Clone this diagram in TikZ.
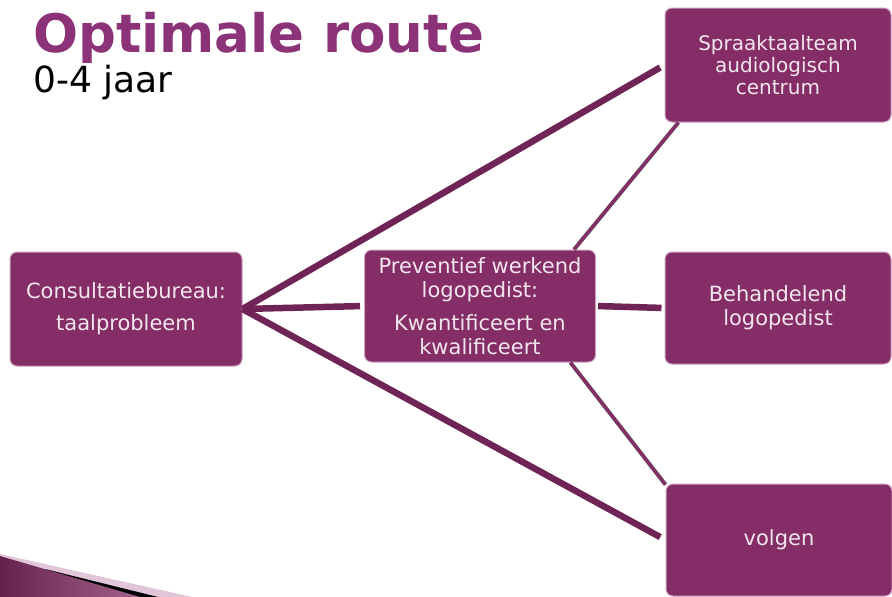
\documentclass[tikz,border=0pt]{standalone}
\usepackage{fontspec}
\setmainfont{DejaVu Sans}
\usetikzlibrary{calc}

\definecolor{boxpurple}{RGB}{133,45,102}
\definecolor{linepurple}{RGB}{112,36,86}
\definecolor{titlepurple}{RGB}{140,50,120}
\definecolor{boxtext}{RGB}{242,230,238}
\definecolor{rimpink}{RGB}{205,160,192}

\begin{document}
\begin{tikzpicture}[x=1pt,y=-1pt,
  routebox/.style={rectangle, rounded corners=7pt, fill=boxpurple, draw=rimpink,
    line width=1pt, text=boxtext, align=center,
    font=\fontsize{21}{24}\selectfont},
  thickroute/.style={linepurple, line width=6.5pt},
  thinroute/.style={boxpurple, line width=3pt, preaction={draw=black!60, line width=4pt}},
  titletext/.style={anchor=base west, inner sep=0pt, font=\bfseries\fontsize{53}{60}\selectfont}
]
\useasboundingbox (0,0) rectangle (892,597);

% titel
\node[titletext, text=titlepurple] (title) at (33,52) {Optimale route};
\node[anchor=base west, inner sep=0pt, font=\fontsize{36}{40}\selectfont] (age) at (33,92) {0-4 jaar};

% blokken
\node[routebox, minimum width=232pt, minimum height=114pt] (cb) at (126,309)
  {Consultatiebureau:\\[8pt]taalprobleem};
\node[routebox, minimum width=231pt, minimum height=112pt] (pv) at (480,306)
  {Preventief werkend\\logopedist:\\[9pt]Kwantificeert en\\kwalificeert};
\node[routebox, minimum width=226pt, minimum height=114pt,
  font=\fontsize{20}{22}\selectfont] (st) at (778,65)
  {Spraaktaalteam\\audiologisch\\centrum};
\node[routebox, minimum width=226pt, minimum height=112pt] (bl) at (778,308)
  {Behandelend\\logopedist};
\node[routebox, minimum width=226pt, minimum height=112pt] (vo) at (779,540) {volgen};

% verbindingen
\draw[thickroute, shorten >=5pt] (cb.east) -- (st.west);
\draw[thickroute, shorten >=4pt] (cb.east) -- (pv.west);
\draw[thickroute, shorten >=6pt] (cb.east) -- (vo.west);
\draw[thickroute, shorten <=2pt, shorten >=3pt] (pv.east) -- (bl.west);
\draw[thinroute] (pv.31) -- (st.210);
\draw[thinroute] (pv.-32) -- (vo.154);

% hoekje linksonder
\fill[rimpink!60] (0,554) -- (192,597) -- (0,597) -- cycle;
\fill[black] (45,569) -- (158,597) -- (100,597) -- cycle;
\shade[left color=boxpurple!75!black, right color=boxpurple!75] (0,556) -- (140,597) -- (0,597) -- cycle;
\end{tikzpicture}
\end{document}
